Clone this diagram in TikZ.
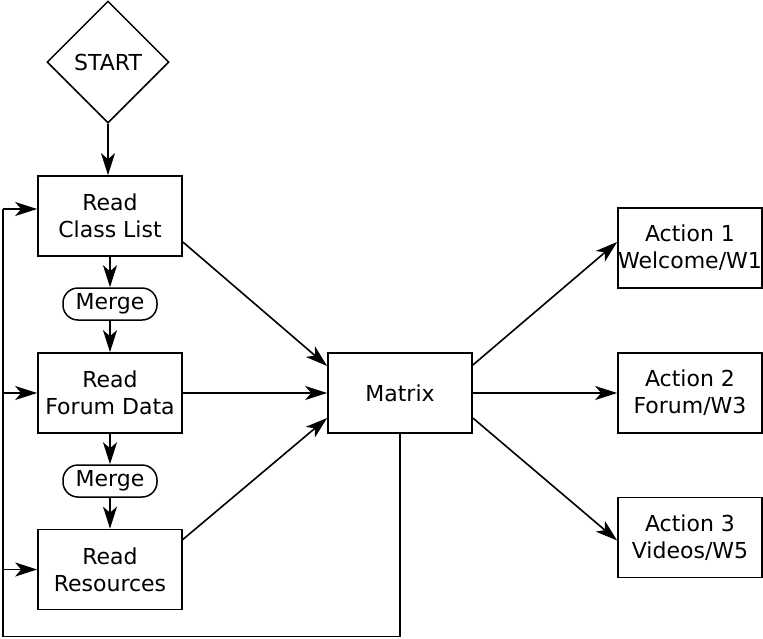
\documentclass[tikz,border=0pt]{standalone}
\usepackage{fontspec}
\setmainfont{DejaVu Sans}
\usetikzlibrary{arrows.meta,shapes.geometric,calc}
\begin{document}
\begin{tikzpicture}[x=1pt,y=-1pt,
  every node/.style={font=\fontsize{22}{27}\selectfont, align=center, inner sep=0pt},
  box/.style={draw, line width=1.7pt, minimum width=144pt, minimum height=80pt},
  mergebox/.style={draw, line width=1.5pt, rounded corners=15pt, minimum width=94pt, minimum height=32pt},
  startbox/.style={draw, line width=1.5pt, diamond, aspect=1, minimum width=122pt, minimum height=122pt},
  arr/.style={line width=1.6pt, -{Stealth[length=22pt, width=14pt, inset=6pt]}},
  ln/.style={line width=1.6pt}]
\useasboundingbox (0,0) rectangle (763,638);

\node[startbox] (st) at (108,62) {START};
\node[box] (cl) at (110,216) {Read\\Class List};
\node[mergebox] (m1) at (110,304) {Merge};
\node[box] (fd) at (110,393) {Read\\Forum Data};
\node[mergebox] (m2) at (110,481) {Merge};
\node[box] (rs) at (110,569.5) {Read\\Resources};
\node[box] (mx) at (400,393) {Matrix};
\node[box] (a1) at (690,248) {Action 1\\Welcome/W1};
\node[box] (a2) at (690,393) {Action 2\\Forum/W3};
\node[box] (a3) at (690,537.5) {Action 3\\Videos/W5};

\draw[arr] (st.south) -- (st.south |- cl.north);
\draw[arr] (cl.south) -- (m1.north);
\draw[arr] (m1.south) -- (fd.north);
\draw[arr] (fd.south) -- (m2.north);
\draw[arr] (m2.south) -- (rs.north);

\draw[arr] ([yshift=-26pt]cl.east) -- ([yshift=27pt]mx.west);
\draw[arr] (fd.east) -- (mx.west);
\draw[arr] ([yshift=30pt]rs.east) -- ([yshift=-25pt]mx.west);

\draw[arr] ([yshift=28pt]mx.east) -- ([yshift=6pt]a1.west);
\draw[arr] (mx.east) -- (a2.west);
\draw[arr] ([yshift=-25pt]mx.east) -- ([yshift=-3pt]a3.west);

\coordinate (fbr) at (400,636.5);
\coordinate (fbl) at (3,636.5);
\coordinate (fbt) at (3,209);
\draw[ln] (mx.south) -- (fbr) -- (fbl) -- (fbt);
\draw[arr] (fbt) -- (fbt -| cl.west);
\draw[arr] (fbl |- fd.west) -- (fd.west);
\draw[arr] (fbl |- rs.west) -- (rs.west);
\end{tikzpicture}
\end{document}
